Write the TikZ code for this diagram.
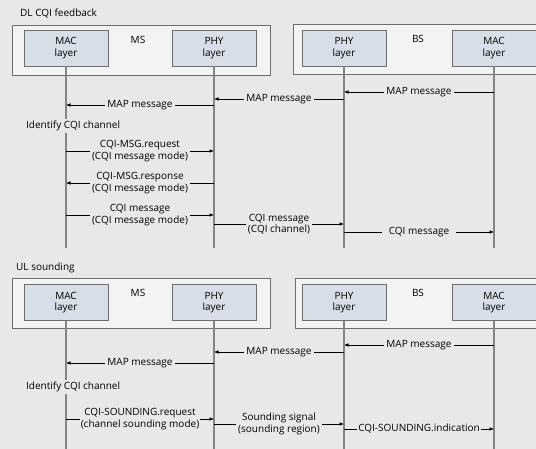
\documentclass[tikz,border=0pt]{standalone}
\usepackage{fontspec}
\setmainfont{Open Sans}
\usetikzlibrary{arrows.meta}
\definecolor{bggray}{HTML}{E8E8E8}
\definecolor{boxgray}{HTML}{F3F3F3}
\definecolor{layerblue}{HTML}{D8DEE7}
\definecolor{edgegray}{HTML}{6E6E6E}
\definecolor{lifegray}{HTML}{858585}

\begin{document}
\begin{tikzpicture}[x=1pt, y=-1pt,
    font=\fontsize{10}{11.5}\selectfont,
    entity/.style={draw=edgegray, fill=boxgray, line width=0.8pt, minimum height=50pt, inner sep=0pt},
    layer/.style={draw=edgegray, fill=layerblue, line width=0.8pt, minimum width=84pt, minimum height=36pt, align=center, inner sep=0pt},
    lifeline/.style={draw=lifegray, line width=1.3pt},
    arrow/.style={-{Latex[length=4.5pt,width=3.5pt]}, line width=0.6pt},
    lbl/.style={fill=bggray, align=center, inner sep=2pt},
    title/.style={anchor=west, inner sep=0pt}
]
\clip (0,0) rectangle (536,449);
\fill[bggray] (0,0) rectangle (536,449);

% DL CQI feedback
\node[title] (dltitle) at (20,14) {DL CQI feedback};
\node[entity, minimum width=258pt] (ms1) at (141,50) {};
\node[entity, minimum width=252pt] (bs1) at (419,49.5) {};
\node (mslbl1) at (138,40) {MS};
\node (bslbl1) at (418,39) {BS};
\node[layer] (macms1) at (66,48) {MAC\\layer};
\node[layer] (phyms1) at (214,48) {PHY\\layer};
\node[layer] (phybs1) at (344,48) {PHY\\layer};
\node[layer] (macbs1) at (494,48) {MAC\\layer};
\draw[lifeline] (macms1) -- (macms1 |- 0,248);
\draw[lifeline] (phyms1) -- (phyms1 |- 0,248);
\draw[lifeline] (phybs1) -- (phybs1 |- 0,248);
\draw[lifeline] (macbs1) -- (macbs1 |- 0,248);
\draw[arrow] (macbs1 |- 0,92) -- node[lbl] {MAP message} (phybs1 |- 0,92);
\draw[arrow] (phybs1 |- 0,99) -- node[lbl] {MAP message} (phyms1 |- 0,99);
\draw[arrow] (phyms1 |- 0,105) -- node[lbl] {MAP message} (macms1 |- 0,105);
\node[title, fill=bggray, inner ysep=2pt] (ident1) at (26,126) {Identify CQI channel};
\draw[arrow] (macms1 |- 0,151) -- node[lbl] {CQI-MSG.request\\(CQI message mode)} (phyms1 |- 0,151);
\draw[arrow] (phyms1 |- 0,183) -- node[lbl] {CQI-MSG.response\\(CQI message mode)} (macms1 |- 0,183);
\draw[arrow] (macms1 |- 0,215) -- node[lbl] {CQI message\\(CQI message mode)} (phyms1 |- 0,215);
\draw[arrow] (phyms1 |- 0,224) -- node[lbl] {CQI message\\(CQI channel)} (phybs1 |- 0,224);
\draw[arrow] (phybs1 |- 0,232) -- node[lbl, inner xsep=7pt] {CQI message} (macbs1 |- 0,232);

% UL sounding
\node[title] (ultitle) at (16,268) {UL sounding};
\node[entity, minimum width=258pt] (ms2) at (141,303) {};
\node[entity, minimum width=250pt] (bs2) at (420,303) {};
\node (mslbl2) at (138,293) {MS};
\node (bslbl2) at (418,293) {BS};
\node[layer] (macms2) at (66,302.5) {MAC\\layer};
\node[layer] (phyms2) at (214,302.5) {PHY\\layer};
\node[layer] (phybs2) at (344,302.5) {PHY\\layer};
\node[layer] (macbs2) at (494,302.5) {MAC\\layer};
\draw[lifeline] (macms2) -- (macms2 |- 0,449);
\draw[lifeline] (phyms2) -- (phyms2 |- 0,449);
\draw[lifeline] (phybs2) -- (phybs2 |- 0,449);
\draw[lifeline] (macbs2) -- (macbs2 |- 0,449);
\draw[arrow] (macbs2 |- 0,345) -- node[lbl] {MAP message} (phybs2 |- 0,345);
\draw[arrow] (phybs2 |- 0,352) -- node[lbl] {MAP message} (phyms2 |- 0,352);
\draw[arrow] (phyms2 |- 0,363) -- node[lbl] {MAP message} (macms2 |- 0,363);
\node[title, fill=bggray, inner ysep=2pt] (ident2) at (26,387) {Identify CQI channel};
\draw[arrow] (macms2 |- 0,419) -- node[lbl, inner xsep=1pt] {CQI-SOUNDING.request\\(channel sounding mode)} (phyms2 |- 0,419);
\draw[arrow] (phyms2 |- 0,424) -- node[lbl] {Sounding signal\\(sounding region)} (phybs2 |- 0,424);
\draw[arrow] (phybs2 |- 0,429) -- node[lbl, inner xsep=1pt] {CQI-SOUNDING.indication} (macbs2 |- 0,429);
\end{tikzpicture}
\end{document}
